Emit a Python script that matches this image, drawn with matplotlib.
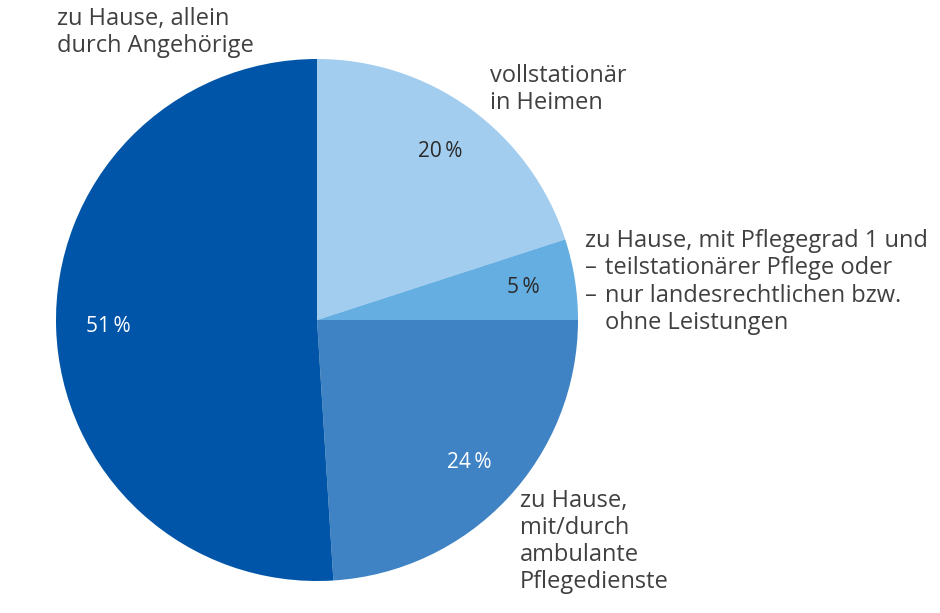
import matplotlib
matplotlib.use("Agg")
import matplotlib.pyplot as plt
import numpy as np

# shares of people in need of care, by type of care
shares = [20, 5, 24, 51]
pct_labels = ["20\u2009%", "5\u2009%", "24\u2009%", "51\u2009%"]
colors = ["#a3cdef", "#64aee1", "#3f83c5", "#0055a8"]
pct_colors = ["#2a2a2a", "#2a2a2a", "white", "white"]

label_heime = "vollstationär\nin Heimen"
label_teil = "zu Hause, mit Pflegegrad 1 und"
label_teil_items = ["teilstationärer Pflege oder", "nur landesrechtlichen bzw.\nohne Leistungen"]
label_ambulant = "zu Hause,\nmit/durch\nambulante\nPflegedienste"
label_angeh = "zu Hause, allein\ndurch Angehörige"

plt.rcParams['font.family'] = ['Open Sans', 'DejaVu Sans']
txt_col = "#404040"

W, H = 940, 613
fig = plt.figure(figsize=(W / 100, H / 100), dpi=100)
cx, cy, r = 317, 320, 261
ax = fig.add_axes([(cx - r) / W, (H - cy - r) / H, 2 * r / W, 2 * r / H])

wedges, _ = ax.pie(shares, colors=colors, startangle=90, counterclock=False,
                   radius=1.0, wedgeprops=dict(linewidth=0))
for w, lab, c in zip(wedges, pct_labels, pct_colors):
    mid = np.deg2rad((w.theta1 + w.theta2) / 2)
    ax.text(0.8 * np.cos(mid), 0.8 * np.sin(mid), lab, ha='center', va='center',
            fontsize=15, color=c)
ax.set_xlim(-1, 1)
ax.set_ylim(-1, 1)
ax.set_aspect('equal')
ax.axis('off')


def px(x, y):
    return x / W, 1 - y / H


fs = 17
ls = 1.16
fig.text(*px(57, 7), label_angeh, ha='left', va='top', fontsize=fs, color=txt_col, linespacing=ls)
fig.text(*px(490, 64), label_heime, ha='left', va='top', fontsize=fs, color=txt_col, linespacing=ls)
fig.text(*px(585, 229), label_teil, ha='left', va='top', fontsize=fs, color=txt_col, linespacing=ls)
fig.text(*px(585, 256), "\u2013", ha='left', va='top', fontsize=fs, color=txt_col)
fig.text(*px(585, 284), "\u2013", ha='left', va='top', fontsize=fs, color=txt_col)
fig.text(*px(605, 256), label_teil_items[0], ha='left', va='top', fontsize=fs, color=txt_col, linespacing=ls)
fig.text(*px(605, 284), label_teil_items[1], ha='left', va='top', fontsize=fs, color=txt_col, linespacing=ls)
fig.text(*px(520, 489), label_ambulant, ha='left', va='top', fontsize=fs, color=txt_col, linespacing=ls)

fig.savefig("out.png", dpi=100, facecolor='white')
